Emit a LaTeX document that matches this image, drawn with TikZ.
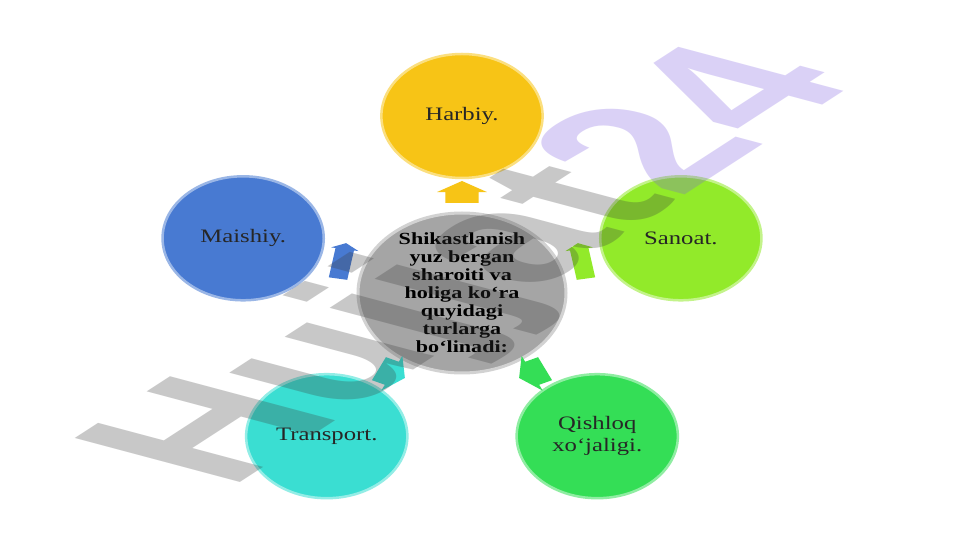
\documentclass[tikz,border=0pt]{standalone}
\usepackage{fontspec}
\setmainfont{Liberation Serif}
\newfontfamily\belgifont{Liberation Sans}
\usetikzlibrary{shapes.arrows,calc}
\definecolor{harbiyrang}{RGB}{247,196,22}
\definecolor{maishiyrang}{RGB}{72,122,210}
\definecolor{sanoatrang}{RGB}{146,234,42}
\definecolor{qishloqrang}{RGB}{52,222,86}
\definecolor{transportrang}{RGB}{58,222,210}
\definecolor{markazrang}{RGB}{165,165,165}
\definecolor{belgikul}{RGB}{58,58,58}
\definecolor{belgibinafsha}{RGB}{125,92,225}
\tikzset{
  doira/.style={circle, minimum size=124pt, inner sep=0pt, align=center,
    font=\fontsize{19}{22}\selectfont, text=black!85, line width=2.5pt},
  strelka/.style={single arrow, minimum height=22pt, inner xsep=0pt, inner ysep=12.5pt,
    single arrow head extend=6.5pt, single arrow tip angle=120},
  ingichka/.style={minimum height=36pt, inner ysep=7pt, single arrow head extend=3.5pt},
}
\begin{document}
\begin{tikzpicture}[x=1pt,y=1pt]
   \fill[white] (-462,-247) rectangle (499,293);
   \useasboundingbox (-462,-247) rectangle (499,293);
   \begin{scope}[xscale=1.3, transform shape]
     \node[circle, minimum size=160pt, inner sep=0pt, align=center,
       font=\bfseries\fontsize{17}{18}\selectfont, fill=markazrang,
       draw=gray!35, line width=3pt] (markaz) at (0,0)
       {Shikastlanish\\yuz bergan\\sharoiti va\\holiga ko‘ra\\quyidagi\\turlarga\\bo‘linadi:};
     \foreach \ang/\nom/\rang/\yon/\qosh/\matn in {90/harbiy/harbiyrang/90/{}/Harbiy.,
         18/sanoat/sanoatrang/100/ingichka/Sanoat.,
         -54/qishloq/qishloqrang/-155/{}/{Qishloq\\xo‘jaligi.},
         -126/transport/transportrang/-25/{}/Transport.,
         162/maishiy/maishiyrang/80/ingichka/Maishiy.}
     {
       \node[doira, fill=\rang, draw=\rang!55!white] (\nom) at (\ang:177) {\matn};
       \node[strelka, \qosh, fill=\rang, rotate=\yon] (s-\nom) at ($(markaz)!0.55!(\nom)$) {};
     }
   \end{scope}
   % suv belgisi
   \node[inner sep=0pt, anchor=base west, cm={1.62,1.05,-2.4,0.64,(0,0)},
     font=\belgifont\bfseries\fontsize{100}{100}\selectfont, text opacity=0.28]
     (belgi) at (-233,-197) {\textcolor{belgikul}{Hujjat}\textcolor{belgibinafsha}{24}};
\end{tikzpicture}
\end{document}
